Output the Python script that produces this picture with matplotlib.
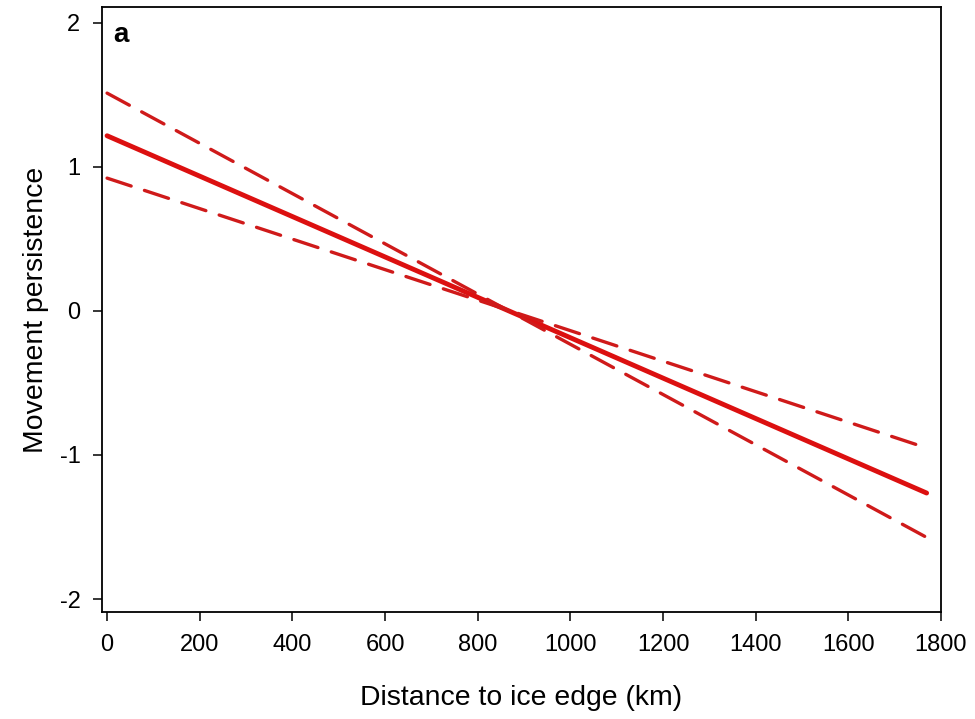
import matplotlib
matplotlib.use("Agg")
import matplotlib.pyplot as plt

plt.rcParams['font.family'] = ['Liberation Sans', 'DejaVu Sans']

# distancia al borde del hielo (km) y valores
distance = [0, 1769]
fit = [1.216, -1.264]
ci_low_left = [0.922, -0.951]
ci_high_left = [1.512, -1.572]

xticks = [0, 200, 400, 600, 800, 1000, 1200, 1400, 1600, 1800]
yticks = [-2, -1, 0, 1, 2]

red = '#dc1010'
red_dash = '#cf1a1a'

fig = plt.figure(figsize=(9.75, 7.19), dpi=100)
ax = fig.add_axes([0.1046, 0.1488, 0.8605, 0.8415])

ax.plot(distance, fit, color=red, lw=3.5, solid_capstyle='round')
for band in (ci_high_left, ci_low_left):
    ax.plot(distance, band, color=red_dash, lw=2.4, linestyle=(0, (7.6, 4.2)),
            dash_capstyle='round')

ax.set_xlim(-11, 1800)
ax.set_ylim(-2.09, 2.11)
ax.set_xticks(xticks)
ax.set_yticks(yticks)
ax.set_yticklabels([str(v) for v in yticks])

for s in ax.spines.values():
    s.set_linewidth(1.3)
ax.tick_params(direction='out', length=6.5, width=1.1, labelsize=17, pad=9)

ax.set_xlabel('Distance to ice edge (km)', fontsize=20.4)
ax.xaxis.label.set_va('baseline')
ax.xaxis.set_label_coords(0.5, -0.1537)
ax.set_ylabel('Movement persistence', fontsize=20.4)
ax.yaxis.label.set_va('baseline')
ax.yaxis.set_label_coords(-0.0703, 0.5)

ax.text(0.0131, 0.953, 'a', transform=ax.transAxes, fontsize=20,
        fontweight='bold', ha='left', va='center')

fig.savefig('out.png', dpi=100)
